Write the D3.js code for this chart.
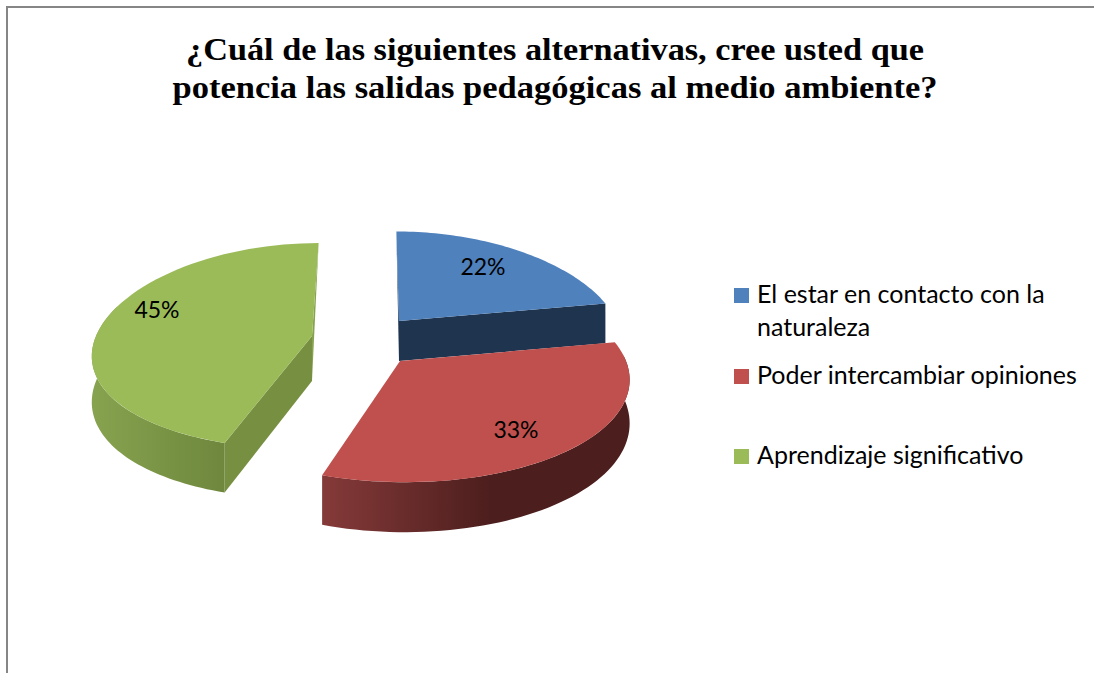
<!DOCTYPE html>
<html><head><meta charset="utf-8">
<script src="https://cdn.jsdelivr.net/npm/d3@7/dist/d3.min.js"></script>
<style>html,body{margin:0;padding:0;background:#fff}svg{display:block}</style>
</head><body><svg id="c" width="1094" height="673"></svg>
<script>
const categories = ["El estar en contacto con la naturaleza","Poder intercambiar opiniones","Aprendizaje significativo"];
const legendLines = [["El estar en contacto con la","naturaleza"],["Poder intercambiar opiniones"],["Aprendizaje significativo"]];
const values = [22,33,45];
const titleLines = ["¿Cuál de las siguientes alternativas, cree usted que","potencia las salidas pedagógicas al medio ambiente?"];
const topColors = ["#4f81bd","#c0504d","#9bbb59"];
const innerColors = ["#1f344f","#4c1e1d","#778f41"];
const wallStops = [
  [["0","#1f344f"],["1","#1f344f"]],
  [["0","#853a39"],["0.55","#4c1e1d"],["1","#4c1e1d"]],
  [["0","#87a34f"],["1","#6e873d"]]
];
// layout of the exploded slices
const apex = [[399,321],[400,361],[312,336]];
const radiusX = [217,226,216];
const radiusY = [94,103,102];
const perspY = [0.05,0.15,0.098];
const depths = [40,42.5,45];
const vanishX = [380,375,360];
const perspX = 0.16;
const labelPos = [[483,267],[516,430],[157,310]];
const legendY = [295.5,376.5,456.5];

const svg = d3.select("#c");
const defs = svg.append("defs");
svg.append("rect").attr("x",7).attr("y",7).attr("width",1120).attr("height",700)
  .attr("fill","#fff").attr("stroke","#868686").attr("stroke-width",2);

const arcs = d3.pie().sort(null)(values);
function project(i,a,r,down){
  const u=r*Math.sin(a), v=-r*Math.cos(a);
  const sx=1/(1-perspX*v), sy=1/(1-perspY[i]*v);
  return [vanishX[i]+(apex[i][0]-vanishX[i])*sx+radiusX[i]*u*sx,
          apex[i][1]+radiusY[i]*v*sy+(down?depths[i]*sy:0)];
}
const line=d3.line();
function sample(a0,a1){return d3.range(0,61).map(k=>a0+(a1-a0)*k/60);}

const order=[2,0,1];
order.forEach(i=>{
  const d=arcs[i], a0=d.startAngle, a1=d.endAngle;
  const rim=sample(a0,a1).map(a=>project(i,a,1,false));
  const g=svg.append("g");
  if(i===2){
    const pTop=project(i,a1,1,false), pA=project(i,0,0,false), pAd=project(i,0,0,true);
    const pEnd=project(i,a0,1,false), pEndD=project(i,a0,1,true);
    g.append("path").attr("d",line([pEnd,pA,pAd,pEndD])+"Z").attr("fill",innerColors[i]);
    g.append("path").attr("d",line([pTop,pA,pAd])+"Z").attr("fill","#87a34f");
  }
  if(i===0){
    const pEnd=project(i,a1,1,false), pA=project(i,0,0,false), pAd=project(i,0,0,true), pEndD=project(i,a1,1,true);
    g.append("path").attr("d",line([pA,pEnd,pEndD,pAd])+"Z").attr("fill",innerColors[i]);
    const pTop=project(i,a0,1,false);
    g.append("path").attr("d",line([pTop,pA,pAd])+"Z").attr("fill",innerColors[i]);
  }
  const wa0=Math.max(a0,Math.PI/2-0.05), wa1=Math.min(a1,3*Math.PI/2+0.3);
  if(wa1>wa0){
    const t=sample(wa0,wa1).map(a=>project(i,a,1,false));
    const b=sample(wa0,wa1).map(a=>project(i,a,1,true)).reverse();
    const xs=t.map(p=>p[0]);
    const id="wall"+i;
    const gr=defs.append("linearGradient").attr("id",id).attr("gradientUnits","userSpaceOnUse")
      .attr("x1",d3.min(xs)).attr("x2",d3.max(xs)).attr("y1",0).attr("y2",0);
    wallStops[i].forEach(s=>gr.append("stop").attr("offset",s[0]).attr("stop-color",s[1]));
    g.append("path").attr("d",line(t.concat(b))+"Z").attr("fill",`url(#${id})`);
  }
  g.append("path").attr("d",line([project(i,0,0,false)].concat(rim))+"Z").attr("fill",topColors[i]);
});

svg.selectAll("text.pct").data(values).join("text").attr("class","pct")
  .attr("x",(d,i)=>labelPos[i][0]).attr("y",(d,i)=>labelPos[i][1]+8)
  .attr("text-anchor","middle").attr("font-family","Lato").attr("font-size",23).attr("fill","#000")
  .text(d=>d+"%");

categories.forEach((c,i)=>{
  svg.append("rect").attr("x",734).attr("width",15).attr("height",15)
    .attr("y",legendY[i]-7.5).attr("fill",topColors[i]);
  legendLines[i].forEach((t,k)=>{
    svg.append("text").attr("x",757).attr("y",legendY[i]+7.5+k*33)
      .attr("font-family","Lato").attr("font-size",25).attr("fill","#000").text(t);
  });
});

const titleWidth=[738,765];
titleLines.forEach((t,k)=>{
  svg.append("text").attr("x",555).attr("y",60+k*38).attr("text-anchor","middle")
    .attr("font-family","Liberation Serif").attr("font-weight","bold").attr("font-size",31)
    .attr("textLength",titleWidth[k]).attr("lengthAdjust","spacingAndGlyphs").attr("fill","#000").text(t);
});
</script></body></html>
